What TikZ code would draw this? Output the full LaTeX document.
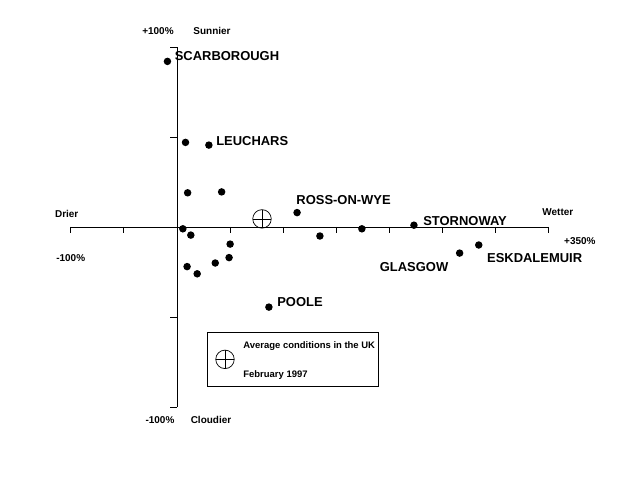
\documentclass[tikz,border=0pt]{standalone}
\usepackage{fontspec}
\setmainfont{Liberation Sans}
\usetikzlibrary{calc}
\tikzset{
    station/.style={font=\bfseries\fontsize{13}{13}\selectfont,inner sep=0pt},
    axislabel/.style={font=\bfseries\fontsize{10}{10}\selectfont,inner sep=0pt},
    legendtext/.style={font=\bfseries\fontsize{9.5}{9.5}\selectfont,inner sep=0pt,anchor=west},
    site/.style={circle,fill=black,inner sep=0pt,minimum size=7.5bp},
    avgmark/.style={circle,draw,line width=0.7bp,inner sep=0pt,minimum size=18.5bp,
        path picture={\draw[line width=0.7bp]
            (path picture bounding box.west) -- (path picture bounding box.east)
            (path picture bounding box.north) -- (path picture bounding box.south);}},
}

\begin{document}
\begin{tikzpicture}[x=1bp,y=-1bp,line width=0.8bp]

% Page frame (pixel units, y down)
\useasboundingbox (0,0) rectangle (619,480);

% Chart in data units: x = rainfall, y = sunshine (per cent of average)
\begin{scope}[shift={(177,227)},x=1.0625bp,y=1.8bp]
    % Axes
    \coordinate (xmin) at (-100,0);
    \coordinate (xmax) at (350,0);
    \coordinate (ymin) at (0,-100);
    \coordinate (ymax) at (0,100);
    \draw (xmin) -- (xmax);
    \draw (ymin) -- (ymax);
    \foreach \x in {-100,-50,...,350}
        \draw (\x,0) -- ++(0pt,-6pt);
    \foreach \y in {-100,-50,50,100}
        \draw (0,\y) -- ++(-7pt,0pt);

    % Named stations
    \node[site] (scar) at (-9,92) {};
    \node[site] (leuchars) at (30,45.5) {};
    \node[site] (ross) at (113,8) {};
    \node[site] (stornoway) at (223,1) {};
    \node[site] (glasgow) at (266,-14.5) {};
    \node[site] (eskdale) at (284,-10) {};
    \node[site] (poole) at (86.5,-44.5) {};

    % Other stations
    \foreach \px/\py [count=\i] in {8/47,10/19,42/19.5,5.5/-1,13/-4.5,134.5/-5,
            174/-1,50/-9.5,49/-17,36/-20,9.5/-22,19/-26}
        \node[site] (p\i) at (\px,\py) {};

    % UK average
    \node[avgmark] (avg) at (80,4.5) {};
\end{scope}

% Axis labels
\node[axislabel] (plus100) at ([xshift=-19bp,yshift=16bp]ymax) {+100\%};
\node[axislabel] (sunnier) at ([xshift=35bp,yshift=16bp]ymax) {Sunnier};
\node[axislabel] (minus100y) at ([xshift=-17bp,yshift=-13bp]ymin) {-100\%};
\node[axislabel] (cloudier) at ([xshift=34bp,yshift=-13bp]ymin) {Cloudier};
\node[axislabel] (drier) at ([xshift=-4bp,yshift=13bp]xmin) {Drier};
\node[axislabel] (minus100x) at ([yshift=-31bp]xmin) {-100\%};
\node[axislabel] (wetter) at ([xshift=9bp,yshift=15bp]xmax) {Wetter};
\node[axislabel] (plus350) at ([xshift=31bp,yshift=-14bp]xmax) {+350\%};

% Station names
\node[station,anchor=west] at ([xshift=7bp,yshift=5bp]scar) {SCARBOROUGH};
\node[station,anchor=west] at ([xshift=7bp,yshift=4bp]leuchars) {LEUCHARS};
\node[station,anchor=west] at ([xshift=-1bp,yshift=13bp]ross) {ROSS-ON-WYE};
\node[station,anchor=west] at ([xshift=9bp,yshift=4bp]stornoway) {STORNOWAY};
\node[station,anchor=east] at ([xshift=-11bp,yshift=-14bp]glasgow) {GLASGOW};
\node[station,anchor=west] at ([xshift=8bp,yshift=-13bp]eskdale) {ESKDALEMUIR};
\node[station,anchor=west] at ([xshift=8bp,yshift=5bp]poole) {POOLE};

% Legend box
\node[draw,line width=0.7bp,anchor=north west,minimum width=171bp,minimum height=54bp,inner sep=0pt]
    (legend) at (207,332) {};
\node[avgmark] (legendmark) at ([xshift=18bp]legend.west) {};
\node[legendtext] (legendline1) at ([xshift=36bp,yshift=-14bp]legend.north west) {Average conditions in the UK};
\node[legendtext] (legendline2) at ([xshift=36bp,yshift=12bp]legend.south west) {February 1997};

\end{tikzpicture}
\end{document}
